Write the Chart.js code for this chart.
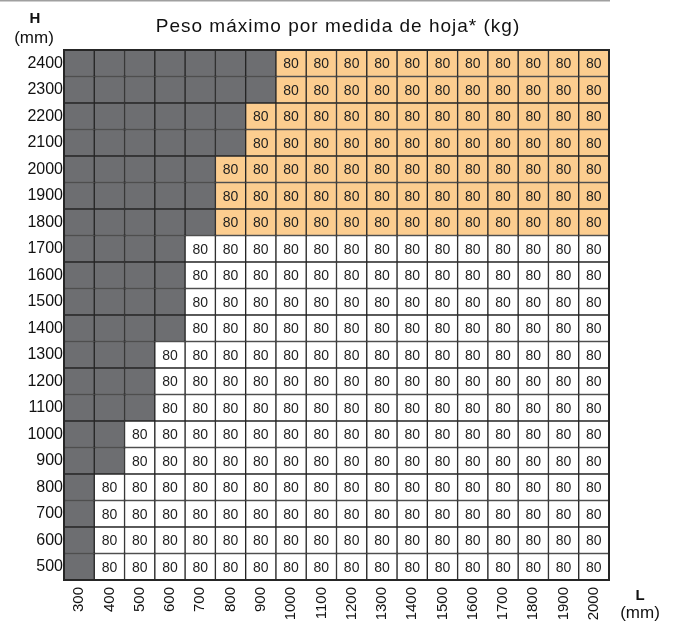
<!DOCTYPE html>
<html>
<head>
<meta charset="utf-8">
<script src="https://cdn.jsdelivr.net/npm/chart.js@4.4.1/dist/chart.umd.min.js"></script>
<style>
  html, body { margin: 0; padding: 0; background: #fff; }
  #wrap { width: 677px; height: 624px; }
</style>
</head>
<body>
<div id="wrap"><canvas id="tabla"></canvas></div>
<script>
// anchos de hoja (L, mm) y alturas (H, mm)
const anchos = [300, 400, 500, 600, 700, 800, 900, 1000, 1100, 1200, 1300, 1400, 1500, 1600, 1700, 1800, 1900, 2000];
const alturas = [500, 600, 700, 800, 900, 1000, 1100, 1200, 1300, 1400, 1500, 1600, 1700, 1800, 1900, 2000, 2100, 2200, 2300, 2400];
// ancho minimo admitido por cada altura
const anchoMin = [400, 400, 400, 400, 500, 500, 600, 600, 600, 700, 700, 700, 700, 800, 800, 800, 900, 900, 1000, 1000];
// peso maximo (kg) por altura
const pesoMax = [80, 80, 80, 80, 80, 80, 80, 80, 80, 80, 80, 80, 80, 80, 80, 80, 80, 80, 80, 80];
// desde esta altura las celdas van en naranja
const alturaNaranja = 1800;

const GRIS = '#6d6e71';
const NARANJA = '#fccd8f';
const BLANCO = '#ffffff';
const FUENTE = '"Liberation Sans", Arial, Helvetica, sans-serif';

function colorCelda(h, i, l) {
  if (l < anchoMin[i]) return GRIS;
  return h >= alturaNaranja ? NARANJA : BLANCO;
}

const datasets = alturas.map((h, i) => ({
  label: 'H ' + h,
  data: anchos.map(() => [h - 50, h + 50]),
  backgroundColor: anchos.map(l => colorCelda(h, i, l)),
  borderColor: '#262626',
  borderWidth: 1,
  borderSkipped: false,
  grouped: false,
  barPercentage: 1,
  categoryPercentage: 1,
  pesos: anchos.map(l => l < anchoMin[i] ? null : pesoMax[i])
}));

const textos = {
  id: 'textos',
  afterDatasetsDraw(chart) {
    const ctx = chart.ctx;
    ctx.save();
    ctx.fillStyle = '#1e1e1e';
    ctx.font = '14px ' + FUENTE;
    ctx.textAlign = 'center';
    ctx.textBaseline = 'middle';
    chart.data.datasets.forEach((ds, di) => {
      chart.getDatasetMeta(di).data.forEach((bar, j) => {
        let p = ds.pesos[j];
        if (p == null) return;
        let c = bar.getCenterPoint();
        ctx.fillText(String(p), c.x, c.y + 1);
      });
    });
    // borde exterior
    let a = chart.chartArea;
    ctx.strokeStyle = '#262626';
    ctx.lineWidth = 2;
    ctx.strokeRect(a.left, a.top, a.right - a.left, a.bottom - a.top);
    ctx.restore();
  },
  afterDraw(chart) {
    const ctx = chart.ctx;
    ctx.save();
    ctx.fillStyle = '#a0a0a0';
    ctx.fillRect(0, 0, 610, 1.5);

    ctx.fillStyle = '#111';
    ctx.textAlign = 'center';
    ctx.textBaseline = 'alphabetic';
    ctx.font = '19px ' + FUENTE;
    ctx.letterSpacing = '1px';
    ctx.fillText('Peso máximo por medida de hoja* (kg)', 338, 32);
    ctx.letterSpacing = '0px';

    ctx.font = 'bold 15px ' + FUENTE;
    ctx.fillText('H', 35, 23);
    ctx.fillText('L', 640, 600);
    ctx.font = '17px ' + FUENTE;
    ctx.fillText('(mm)', 34, 43);
    ctx.fillText('(mm)', 640, 618);
    ctx.restore();
  }
};

new Chart(document.getElementById('tabla'), {
  type: 'bar',
  data: { labels: anchos.map(String), datasets },
  options: {
    responsive: true,
    maintainAspectRatio: false,
    animation: false,
    layout: { padding: { top: 50, right: 68, left: 0, bottom: 0 } },
    plugins: {
      legend: { display: false },
      tooltip: { enabled: false },
      title: { display: false }
    },
    scales: {
      x: {
        type: 'category',
        grid: { display: false, drawTicks: false, tickLength: 0 },
        border: { display: false },
        ticks: {
          autoSkip: false,
          maxRotation: 90,
          minRotation: 90,
          padding: 7,
          color: '#111',
          font: { family: FUENTE, size: 15 }
        },
        afterFit(scale) { scale.height = 44; }
      },
      y: {
        type: 'linear',
        min: 450,
        max: 2450,
        grid: { display: false, drawTicks: false, tickLength: 0 },
        border: { display: false },
        afterBuildTicks(scale) {
          scale.ticks = alturas.map(v => ({ value: v }));
        },
        ticks: {
          padding: 1,
          color: '#111',
          font: { family: FUENTE, size: 16 },
          callback: v => String(v)
        },
        afterFit(scale) { scale.width = 64; }
      }
    }
  },
  plugins: [textos]
});
</script>
</body>
</html>
